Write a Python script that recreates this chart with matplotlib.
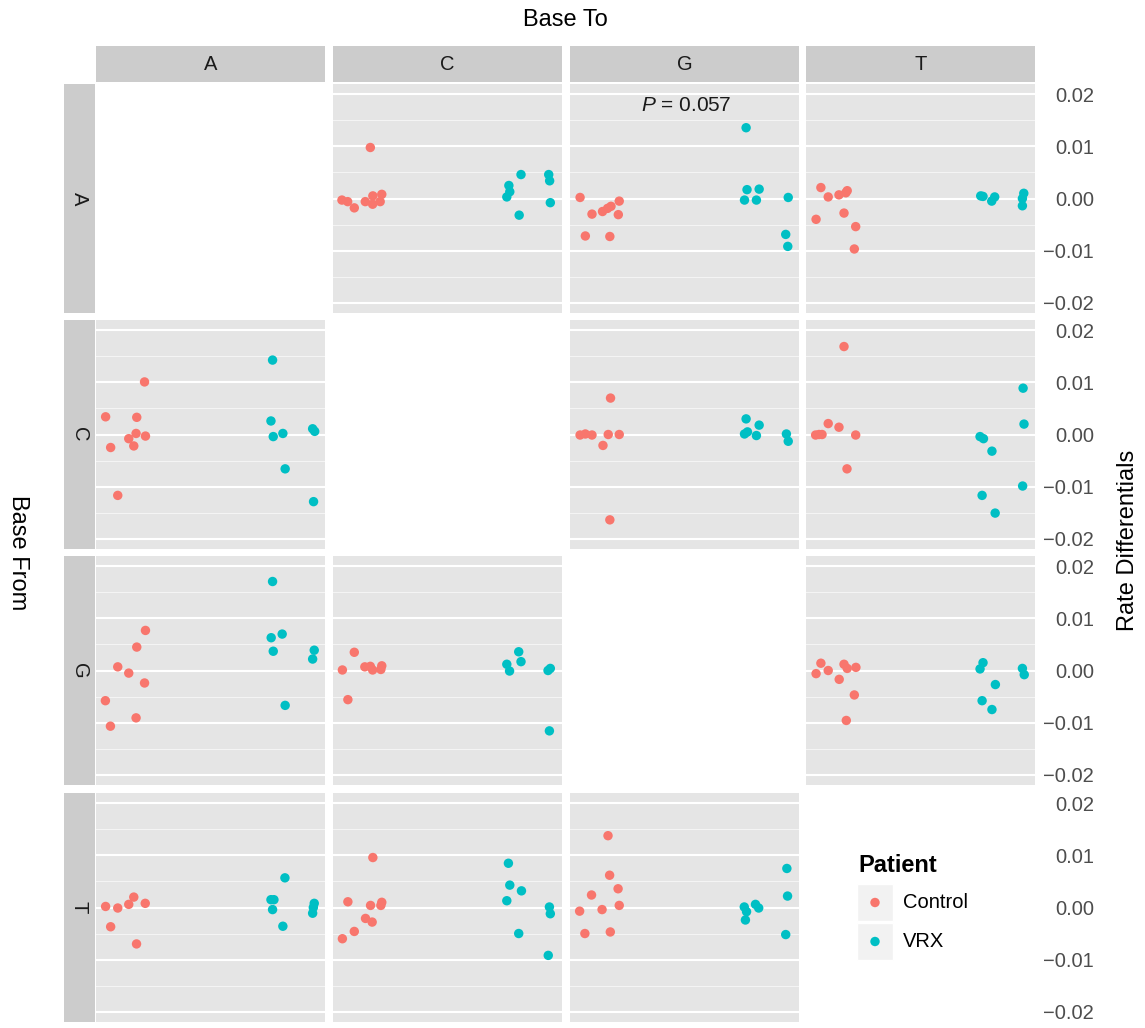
import matplotlib
matplotlib.use("Agg")
import matplotlib.pyplot as plt
from matplotlib.patches import Rectangle
from matplotlib.ticker import FuncFormatter

plt.rcParams['font.family'] = ['Liberation Sans', 'DejaVu Sans']
plt.rcParams['mathtext.fontset'] = 'custom'
plt.rcParams['mathtext.it'] = 'Liberation Sans:italic'
plt.rcParams['mathtext.rm'] = 'Liberation Sans'

# ---------------- data ----------------
bases = ["A", "C", "G", "T"]
groups = ["Control", "VRX"]
colors = ["#F8766D", "#00BFC4"]
y_ticks = [-0.02, -0.01, 0.0, 0.01, 0.02]
y_minor = [-0.015, -0.005, 0.005, 0.015]
p_label = "$P$ = 0.057"

A_C_control_x = [0.163, 0.039, 0.064, 0.093, 0.141, 0.173, 0.174, 0.206, 0.213]
A_C_control_y = [0.0098, -0.0003, -0.0006, -0.0018, -0.0006, -0.0011, 0.0005, -0.0006, 0.0008]
A_C_vrx_x = [0.821, 0.768, 0.772, 0.759, 0.813, 0.942, 0.946, 0.949]
A_C_vrx_y = [0.0046, 0.0025, 0.0013, 0.0003, -0.0032, 0.0046, 0.0034, -0.0008]

A_G_control_x = [0.044, 0.096, 0.142, 0.164, 0.179, 0.215, 0.211, 0.067, 0.174]
A_G_control_y = [0.0002, -0.0030, -0.0025, -0.0019, -0.0015, -0.0005, -0.0031, -0.0072, -0.0073]
A_G_vrx_x = [0.769, 0.773, 0.826, 0.762, 0.814, 0.953, 0.942, 0.951]
A_G_vrx_y = [0.0136, 0.0017, 0.0018, -0.0003, -0.0003, 0.0002, -0.0069, -0.0092]

A_T_control_x = [0.065, 0.097, 0.144, 0.174, 0.180, 0.044, 0.166, 0.217, 0.211]
A_T_control_y = [0.0021, 0.0003, 0.0007, 0.0011, 0.0015, -0.0040, -0.0028, -0.0054, -0.0097]
A_T_vrx_x = [0.763, 0.773, 0.811, 0.824, 0.951, 0.945, 0.945]
A_T_vrx_y = [0.0005, 0.0004, -0.0005, 0.0003, 0.0010, 0.0000, -0.0014]

C_A_control_x = [0.212, 0.042, 0.178, 0.175, 0.143, 0.216, 0.064, 0.165, 0.095]
C_A_control_y = [0.0101, 0.0034, 0.0033, 0.0002, -0.0008, -0.0003, -0.0025, -0.0022, -0.0117]
C_A_vrx_x = [0.771, 0.764, 0.774, 0.816, 0.826, 0.946, 0.955, 0.950]
C_A_vrx_y = [0.0143, 0.0026, -0.0004, 0.0002, -0.0066, 0.0011, 0.0006, -0.0129]

C_G_control_x = [0.177, 0.044, 0.067, 0.096, 0.167, 0.215, 0.144, 0.174]
C_G_control_y = [0.0070, -0.0001, 0.0001, -0.0001, 0.0000, 0.0000, -0.0021, -0.0164]
C_G_vrx_x = [0.769, 0.826, 0.775, 0.762, 0.814, 0.945, 0.953]
C_G_vrx_y = [0.0030, 0.0018, 0.0005, 0.0001, -0.0002, 0.0001, -0.0013]

C_T_control_x = [0.166, 0.097, 0.144, 0.042, 0.057, 0.070, 0.217, 0.179]
C_T_control_y = [0.0169, 0.0021, 0.0014, -0.0001, 0.0000, 0.0000, -0.0001, -0.0066]
C_T_vrx_x = [0.948, 0.952, 0.760, 0.775, 0.812, 0.946, 0.769, 0.826]
C_T_vrx_y = [0.0089, 0.0020, -0.0004, -0.0008, -0.0032, -0.0099, -0.0117, -0.0151]

G_A_control_x = [0.216, 0.178, 0.095, 0.143, 0.212, 0.041, 0.175, 0.063]
G_A_control_y = [0.0077, 0.0045, 0.0007, -0.0005, -0.0024, -0.0058, -0.0091, -0.0107]
G_A_vrx_x = [0.771, 0.813, 0.765, 0.774, 0.953, 0.946, 0.826]
G_A_vrx_y = [0.0171, 0.0070, 0.0063, 0.0037, 0.0039, 0.0022, -0.0067]

G_C_control_x = [0.093, 0.041, 0.139, 0.163, 0.173, 0.209, 0.213, 0.065]
G_C_control_y = [0.0035, 0.0001, 0.0007, 0.0008, 0.0001, 0.0002, 0.0009, -0.0056]
G_C_vrx_x = [0.811, 0.821, 0.759, 0.771, 0.939, 0.949, 0.945]
G_C_vrx_y = [0.0036, 0.0017, 0.0012, -0.0001, 0.0000, 0.0004, -0.0116]

G_T_control_x = [0.065, 0.097, 0.044, 0.166, 0.180, 0.218, 0.145, 0.211, 0.176]
G_T_control_y = [0.0014, 0.0000, -0.0006, 0.0012, 0.0004, 0.0006, -0.0017, -0.0047, -0.0096]
G_T_vrx_x = [0.773, 0.760, 0.827, 0.769, 0.812, 0.945, 0.953]
G_T_vrx_y = [0.0015, 0.0003, -0.0027, -0.0058, -0.0075, 0.0004, -0.0008]

T_A_control_x = [0.042, 0.095, 0.143, 0.165, 0.215, 0.064, 0.177]
T_A_control_y = [0.0002, -0.0001, 0.0006, 0.0020, 0.0008, -0.0037, -0.0070]
T_A_vrx_x = [0.825, 0.764, 0.777, 0.771, 0.816, 0.953, 0.946, 0.949]
T_A_vrx_y = [0.0057, 0.0015, 0.0015, -0.0004, -0.0036, 0.0008, -0.0011, 0.0000]

T_C_control_x = [0.174, 0.065, 0.164, 0.209, 0.213, 0.142, 0.171, 0.093, 0.041]
T_C_control_y = [0.0096, 0.0011, 0.0004, 0.0004, 0.0010, -0.0021, -0.0028, -0.0046, -0.0060]
T_C_vrx_x = [0.766, 0.772, 0.823, 0.759, 0.945, 0.949, 0.811, 0.940]
T_C_vrx_y = [0.0085, 0.0043, 0.0032, 0.0013, 0.0001, -0.0012, -0.0050, -0.0092]

T_G_control_x = [0.166, 0.173, 0.210, 0.094, 0.215, 0.042, 0.140, 0.065, 0.176]
T_G_control_y = [0.0138, 0.0062, 0.0036, 0.0024, 0.0004, -0.0007, -0.0004, -0.0050, -0.0047]
T_G_vrx_x = [0.947, 0.950, 0.942, 0.761, 0.771, 0.766, 0.810, 0.824]
T_G_vrx_y = [0.0075, 0.0022, -0.0052, 0.0001, -0.0008, -0.0024, 0.0006, -0.0001]

panels = {
    ("A", "C"): [(A_C_control_x, A_C_control_y), (A_C_vrx_x, A_C_vrx_y)],
    ("A", "G"): [(A_G_control_x, A_G_control_y), (A_G_vrx_x, A_G_vrx_y)],
    ("A", "T"): [(A_T_control_x, A_T_control_y), (A_T_vrx_x, A_T_vrx_y)],
    ("C", "A"): [(C_A_control_x, C_A_control_y), (C_A_vrx_x, C_A_vrx_y)],
    ("C", "G"): [(C_G_control_x, C_G_control_y), (C_G_vrx_x, C_G_vrx_y)],
    ("C", "T"): [(C_T_control_x, C_T_control_y), (C_T_vrx_x, C_T_vrx_y)],
    ("G", "A"): [(G_A_control_x, G_A_control_y), (G_A_vrx_x, G_A_vrx_y)],
    ("G", "C"): [(G_C_control_x, G_C_control_y), (G_C_vrx_x, G_C_vrx_y)],
    ("G", "T"): [(G_T_control_x, G_T_control_y), (G_T_vrx_x, G_T_vrx_y)],
    ("T", "A"): [(T_A_control_x, T_A_control_y), (T_A_vrx_x, T_A_vrx_y)],
    ("T", "C"): [(T_C_control_x, T_C_control_y), (T_C_vrx_x, T_C_vrx_y)],
    ("T", "G"): [(T_G_control_x, T_G_control_y), (T_G_vrx_x, T_G_vrx_y)],
}

# ---------------- layout ----------------
W, H = 1145, 1028
fig = plt.figure(figsize=(W / 100, H / 100), dpi=100)

col_left = [96, 333, 570, 806]
row_top = [84, 320, 556, 793]
pw, ph = 229, 229
panel_bg = "#E5E5E5"
strip_bg = "#CCCCCC"


def fig_rect(x, y, w, h):
    return [x / W, 1 - (y + h) / H, w / W, h / H]


fmt = FuncFormatter(lambda v, _: f"{v:.2f}".replace("-", "\u2212"))

for r, b_from in enumerate(bases):
    for c, b_to in enumerate(bases):
        ax = fig.add_axes(fig_rect(col_left[c], row_top[r], pw, ph))
        ax.set_xlim(0, 1)
        ax.set_ylim(-0.022, 0.022)
        ax.set_xticks([])
        ax.set_yticks(y_ticks)
        ax.set_yticks(y_minor, minor=True)
        ax.yaxis.set_major_formatter(fmt)
        for s in ax.spines.values():
            s.set_visible(False)
        ax.yaxis.tick_right()
        ax.tick_params(axis='y', which='both', length=0, left=False, right=False,
                       labelleft=False, labelright=(c == 3), labelsize=14.5,
                       labelcolor="#4D4D4D", pad=42.5)
        for t in ax.yaxis.get_major_ticks():
            t.label2.set_horizontalalignment('right')
        if b_from == b_to:
            ax.patch.set_visible(False)
            continue
        ax.set_facecolor(panel_bg)
        ax.grid(True, which='major', axis='y', color='white', lw=1.5)
        ax.grid(True, which='minor', axis='y', color='#F5F5F5', lw=0.7)
        ax.set_axisbelow(True)
        for (xs, ys), col in zip(panels[(b_from, b_to)], colors):
            ax.scatter(xs, ys, s=46, color=col, edgecolors='none', zorder=3)
        if (b_from, b_to) == ("A", "G"):
            ax.text(0.51, 0.0178, p_label, ha='center', va='center', fontsize=15,
                    color='#1A1A1A')

# strips
for c, b in enumerate(bases):
    sax = fig.add_axes(fig_rect(col_left[c], 46, pw, 36))
    sax.set_facecolor(strip_bg)
    sax.set_xticks([]); sax.set_yticks([])
    for s in sax.spines.values():
        s.set_visible(False)
    sax.text(0.5, 0.5, b, ha='center', va='center', fontsize=14.5, color='#1A1A1A',
             transform=sax.transAxes)
for r, b in enumerate(bases):
    sax = fig.add_axes(fig_rect(64, row_top[r], 31, ph))
    sax.set_facecolor(strip_bg)
    sax.set_xticks([]); sax.set_yticks([])
    for s in sax.spines.values():
        s.set_visible(False)
    sax.text(0.5, 0.5, b, ha='center', va='center', fontsize=14.5, color='#1A1A1A',
             rotation=270, transform=sax.transAxes)

# titles
fig.text(565.5 / W, 1 - 20 / H, "Base To", ha='center', va='center', fontsize=17)
fig.text(18 / W, 1 - 553 / H, "Base From", ha='center', va='center', fontsize=17,
         rotation=270)
fig.text(1128 / W, 1 - 540 / H, "Rate Differentials", ha='center', va='center',
         fontsize=17, rotation=90)

# legend (pixel-coordinate overlay)
lax = fig.add_axes([0, 0, 1, 1])
lax.set_xlim(0, W)
lax.set_ylim(H, 0)
lax.axis('off')
lax.text(858, 866, "Patient", ha='left', va='center', fontsize=17, fontweight='bold')
key_tops = [884, 923]
for kt, lab, col in zip(key_tops, groups, colors):
    lax.add_patch(Rectangle((857, kt), 36, 37, facecolor="#F2F2F2", edgecolor='white',
                            lw=1))
    lax.scatter([875], [kt + 18.5], s=46, color=col, edgecolors='none')
    lax.text(903, kt + 18.5, lab, ha='left', va='center', fontsize=14.5)

fig.savefig("out.png", dpi=100)
